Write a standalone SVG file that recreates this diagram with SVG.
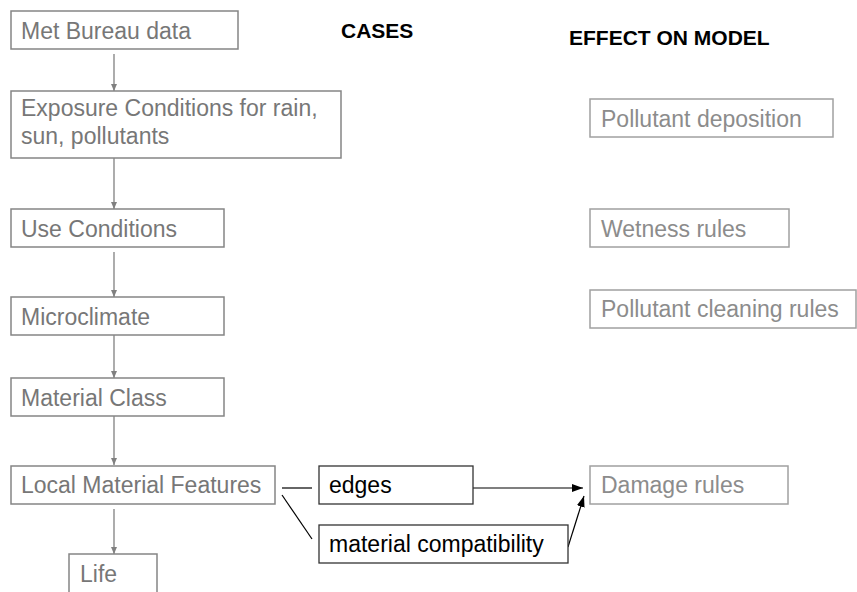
<svg xmlns="http://www.w3.org/2000/svg" width="857" height="592" viewBox="0 0 857 592">
<style>
  .box { fill: #ffffff; stroke: #858585; stroke-width: 1.5; }
  .lbox { fill: #ffffff; stroke: #a0a0a0; stroke-width: 1.5; }
  .bbox { fill: #ffffff; stroke: #333333; stroke-width: 1.3; }
  .t { font-family: "Liberation Sans", Arial, sans-serif; font-size: 23px; fill: #777777; }
  .tl { font-family: "Liberation Sans", Arial, sans-serif; font-size: 23px; fill: #8c8c8c; }
  .tb { font-family: "Liberation Sans", Arial, sans-serif; font-size: 23px; fill: #000000; }
  .h { font-family: "Liberation Sans", Arial, sans-serif; font-size: 21px; font-weight: bold; fill: #000000; }
  .g { stroke: #808080; stroke-width: 1.3; fill: none; }
  .k { stroke: #000000; stroke-width: 1.2; fill: none; }
</style>
<defs>
  <marker id="ag" markerWidth="8" markerHeight="8" refX="7" refY="4" orient="auto" markerUnits="userSpaceOnUse">
    <path d="M0,1 L7,4 L0,7 Z" fill="#808080"/>
  </marker>
  <marker id="ak" markerWidth="12" markerHeight="10" refX="11" refY="5" orient="auto" markerUnits="userSpaceOnUse">
    <path d="M0,1 L11,5 L0,9 Z" fill="#000000"/>
  </marker>
</defs>
<rect width="857" height="592" fill="#ffffff"/>

<text class="h" x="341" y="38">CASES</text>
<text class="h" x="569" y="45">EFFECT ON MODEL</text>

<g id="connectors">
  <line class="g" x1="114" y1="54" x2="114" y2="91" marker-end="url(#ag)"/>
  <line class="g" x1="114" y1="158" x2="114" y2="209" marker-end="url(#ag)"/>
  <line class="g" x1="114" y1="252" x2="114" y2="297" marker-end="url(#ag)"/>
  <line class="g" x1="114" y1="334" x2="114" y2="378" marker-end="url(#ag)"/>
  <line class="g" x1="114" y1="416" x2="114" y2="465" marker-end="url(#ag)"/>
  <line class="g" x1="114" y1="509" x2="114" y2="554" marker-end="url(#ag)"/>
  <line class="k" x1="282" y1="488" x2="312" y2="488"/>
  <line class="k" x1="282" y1="495" x2="312" y2="539"/>
  <line class="k" x1="473" y1="488" x2="583" y2="488" marker-end="url(#ak)"/>
  <line class="k" x1="568" y1="547" x2="584" y2="496" marker-end="url(#ak)"/>
</g>

<g id="met">
  <rect class="box" x="11" y="11" width="227" height="38"/>
  <text class="t" x="21" y="39">Met Bureau data</text>
</g>
<g id="exposure">
  <rect class="box" x="11" y="91" width="330" height="67"/>
  <text class="t" x="21" y="116">Exposure Conditions for rain,</text>
  <text class="t" x="21" y="144">sun, pollutants</text>
</g>
<g id="use">
  <rect class="box" x="11" y="209" width="213" height="38"/>
  <text class="t" x="21" y="237">Use Conditions</text>
</g>
<g id="micro">
  <rect class="box" x="11" y="297" width="213" height="38"/>
  <text class="t" x="21" y="325">Microclimate</text>
</g>
<g id="matclass">
  <rect class="box" x="11" y="378" width="213" height="38"/>
  <text class="t" x="21" y="406">Material Class</text>
</g>
<g id="local">
  <rect class="box" x="11" y="466" width="264" height="38"/>
  <text class="t" x="21" y="493">Local Material Features</text>
</g>
<g id="life">
  <rect class="box" x="69" y="554" width="88" height="40"/>
  <text class="t" x="80" y="582">Life</text>
</g>
<g id="edges">
  <rect class="bbox" x="319" y="466" width="154" height="38"/>
  <text class="tb" x="329" y="493">edges</text>
</g>
<g id="compat">
  <rect class="bbox" x="319" y="525" width="249" height="38"/>
  <text class="tb" x="329" y="552">material compatibility</text>
</g>
<g id="deposition">
  <rect class="lbox" x="590" y="99" width="243" height="38"/>
  <text class="tl" x="601" y="127">Pollutant deposition</text>
</g>
<g id="wetness">
  <rect class="lbox" x="590" y="209" width="199" height="38"/>
  <text class="tl" x="601" y="237">Wetness rules</text>
</g>
<g id="cleaning">
  <rect class="lbox" x="590" y="290" width="266" height="38"/>
  <text class="tl" x="601" y="317">Pollutant cleaning rules</text>
</g>
<g id="damage">
  <rect class="lbox" x="590" y="466" width="198" height="38"/>
  <text class="tl" x="601" y="493">Damage rules</text>
</g>
</svg>
